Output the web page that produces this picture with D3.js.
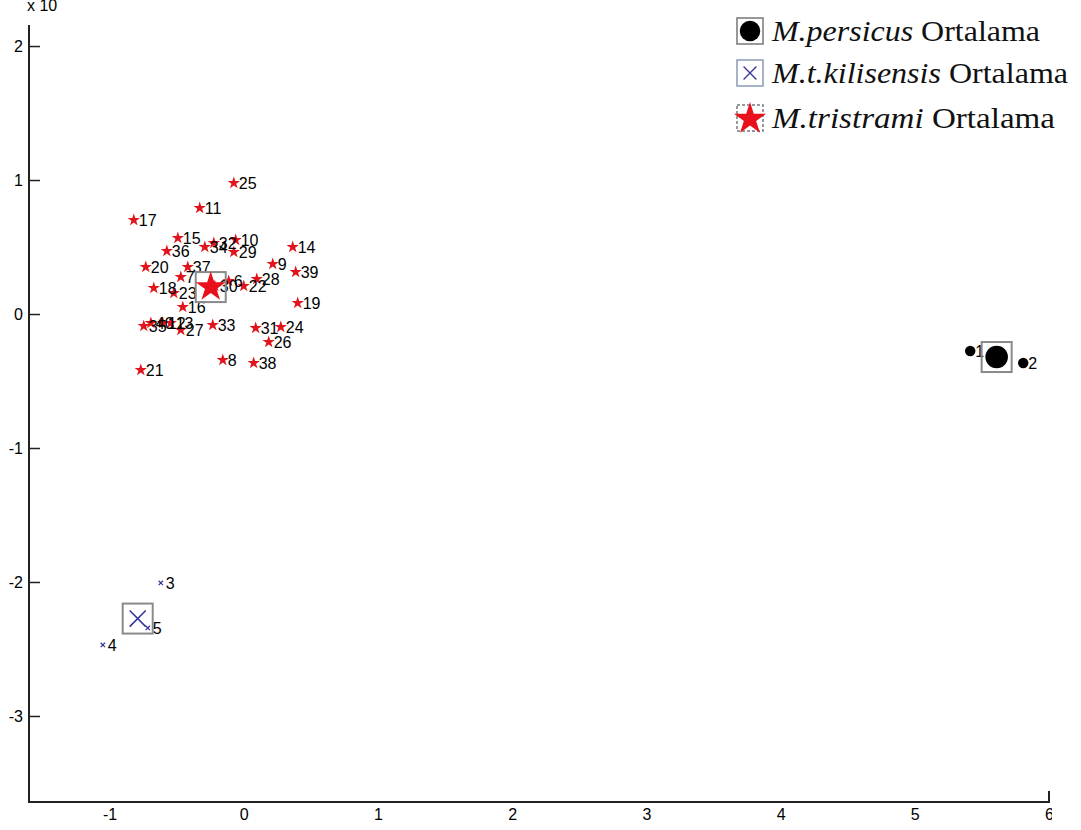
<!DOCTYPE html>
<html lang="en">
<head>
<meta charset="UTF-8">
<title>Ortalama scatter</title>
<script src="https://d3js.org/d3.v7.min.js"></script>
<style>
  body { margin: 0; background: #fff; }
  svg { display: block; }
  .tick text { font-family: "Liberation Sans Narrow", "Liberation Sans", sans-serif; font-size: 16px; fill: #000; }
  .lbl { font-family: "Liberation Sans", Arial, sans-serif; font-size: 16px; fill: #000; }
  .leg { font-family: "Liberation Serif", "Times New Roman", serif; font-size: 30px; fill: #111; }
</style>
</head>
<body>
<svg width="1081" height="830"></svg>
<script>

// point ids and coordinates (x, y) per group
const persicusIds = ['1', '2'];
const persicusX = [5.413, 5.808];
const persicusY = [-0.276, -0.366];

const kilisIds = ['3', '4', '5'];
const kilisX = [-0.618, -1.050, -0.715];
const kilisY = [-2.007, -2.470, -2.343];

const tristIds = ['6', '7', '8', '9', '10', '11', '12', '13', '14', '15', '16', '17', '18', '19', '20',
  '21', '22', '23', '24', '25', '26', '27', '28', '29', '30', '31', '32', '33', '34', '35', '36', '37',
  '38', '39', '40'];
const tristX = [-0.112, -0.469, -0.156, 0.216, -0.060, -0.328, -0.603, -0.544, 0.365, -0.491, -0.454,
  -0.819, -0.670, 0.402, -0.730, -0.767, 0.000, -0.521, 0.276, -0.074, 0.186, -0.469, 0.097, -0.074,
  -0.216, 0.089, -0.223, -0.231, -0.290, -0.745, -0.573, -0.417, 0.074, 0.387, -0.692];
const tristY = [0.246, 0.276, -0.343, 0.373, 0.552, 0.791, -0.067, -0.067, 0.500, 0.567, 0.052,
  0.701, 0.194, 0.082, 0.351, -0.418, 0.209, 0.157, -0.097, 0.978, -0.209, -0.119, 0.261, 0.463,
  0.209, -0.104, 0.530, -0.082, 0.500, -0.090, 0.470, 0.351, -0.366, 0.313, -0.067];

// group means (Ortalama)
const meanNames = ['M.persicus', 'M.t.kilisensis', 'M.tristrami'];
const meanX = [5.61, -0.79, -0.246];
const meanY = [-0.321, -2.273, 0.201];

const xTicks = [-1, 0, 1, 2, 3, 4, 5, 6];
const yTicks = [-3, -2, -1, 0, 1, 2];

const svg = d3.select('svg');

const xScale = d3.scaleLinear().domain([-1.6, 6]).range([29, 1049]);
const yScale = d3.scaleLinear().domain([-3.642, 2.157]).range([802, 25]);

// axes, ticks pointing inward like matlab
svg.append('clipPath').attr('id', 'cut')
  .append('rect').attr('x', 0).attr('y', 0).attr('width', 1052).attr('height', 830);

const xAxis = d3.axisBottom(xScale).tickValues(xTicks).tickSizeInner(-11).tickSizeOuter(0)
  .tickPadding(7).tickFormat(d => String(d));
const xg = svg.append('g').attr('transform', 'translate(0,802)').attr('clip-path', 'url(#cut)').call(xAxis);
xg.select('.domain').remove();

const yAxis = d3.axisLeft(yScale).tickValues(yTicks).tickSizeInner(-11).tickSizeOuter(0)
  .tickPadding(6).tickFormat(d => String(d));
const yg = svg.append('g').attr('transform', 'translate(29,0)').call(yAxis);
yg.select('.domain').remove();

svg.selectAll('.tick line').attr('stroke', '#222').attr('stroke-width', 1.5);

svg.append('path')
  .attr('d', `M29,${yScale.range()[1]}V802H${xScale.range()[1]}V791`)
  .attr('fill', 'none').attr('stroke', '#222').attr('stroke-width', 2);

svg.append('text').attr('x', 27).attr('y', 11)
  .style('font-family', 'Liberation Sans Narrow, Liberation Sans, sans-serif').style('font-size', '16px').text('x 10');

// helpers
const star = d3.symbol().type(d3.symbolStar);
const dot = d3.symbol().type(d3.symbolCircle);
const cross = d3.symbol().type(d3.symbolTimes);

function group(ids, xs, ys, drawMark) {
  const data = ids.map((id, i) => ({ id: id, x: xs[i], y: ys[i] }));
  const g = svg.append('g');
  data.forEach(d => drawMark(g, xScale(d.x), yScale(d.y)));
  g.selectAll('text').data(data).enter().append('text')
    .attr('class', 'lbl')
    .attr('x', d => xScale(d.x) + 5)
    .attr('y', d => yScale(d.y) + 6)
    .text(d => d.id);
}

group(tristIds, tristX, tristY, (g, x, y) => {
  g.append('path').attr('d', star.size(48)()).attr('transform', `translate(${x},${y})`)
    .attr('fill', '#e0141c');
});
group(kilisIds, kilisX, kilisY, (g, x, y) => {
  g.append('path').attr('d', cross.size(14)()).attr('transform', `translate(${x},${y})`)
    .attr('fill', 'none').attr('stroke', '#33339a').attr('stroke-width', 1.2);
});
group(persicusIds, persicusX, persicusY, (g, x, y) => {
  g.append('path').attr('d', dot.size(85)()).attr('transform', `translate(${x},${y})`)
    .attr('fill', '#000');
});

// mean markers with boxes
const meanDraw = [
  (g, x, y) => g.append('path').attr('d', dot.size(400)()).attr('transform', `translate(${x},${y})`).attr('fill', '#000'),
  (g, x, y) => g.append('path').attr('d', cross.size(170)()).attr('transform', `translate(${x},${y})`)
    .attr('fill', 'none').attr('stroke', '#33339a').attr('stroke-width', 1.5),
  (g, x, y) => g.append('path').attr('d', star.size(280)()).attr('transform', `translate(${x},${y})`).attr('fill', '#e8101a')
];
meanNames.forEach((n, i) => {
  const g = svg.append('g');
  const cx = xScale(meanX[i]), cy = yScale(meanY[i]);
  g.append('rect').attr('x', cx - 15).attr('y', cy - 15).attr('width', 30).attr('height', 30)
    .attr('fill', 'none').attr('stroke', '#8a8a8a').attr('stroke-width', 2);
  meanDraw[i](g, cx, cy);
});

// legend
const legY = [31, 73, 118];
const legW = [268, 296, 283];
const leg = svg.append('g');
meanNames.forEach((n, i) => {
  const y = legY[i];
  leg.append('rect').attr('x', 737).attr('y', y - 13).attr('width', 26).attr('height', 26)
    .attr('fill', '#fff')
    .attr('stroke', i === 1 ? '#8a9ab5' : '#777')
    .attr('stroke-width', 1.5)
    .attr('stroke-dasharray', i === 2 ? '3,2' : null);
  if (i === 0) leg.append('path').attr('d', dot.size(330)()).attr('transform', `translate(750,${y})`).attr('fill', '#000');
  if (i === 1) leg.append('path').attr('d', cross.size(110)()).attr('transform', `translate(750,${y})`)
    .attr('fill', 'none').attr('stroke', '#33339a').attr('stroke-width', 1.3);
  if (i === 2) leg.append('path').attr('d', star.size(320)()).attr('transform', `translate(750,${y + 1})`).attr('fill', '#e8101a');
  const t = leg.append('text').attr('class', 'leg').attr('x', 772).attr('y', y + 10)
    .attr('textLength', legW[i]).attr('lengthAdjust', 'spacingAndGlyphs');
  t.append('tspan').style('font-style', 'italic').text(n);
  t.append('tspan').text(' Ortalama');
});

</script>
</body>
</html>
